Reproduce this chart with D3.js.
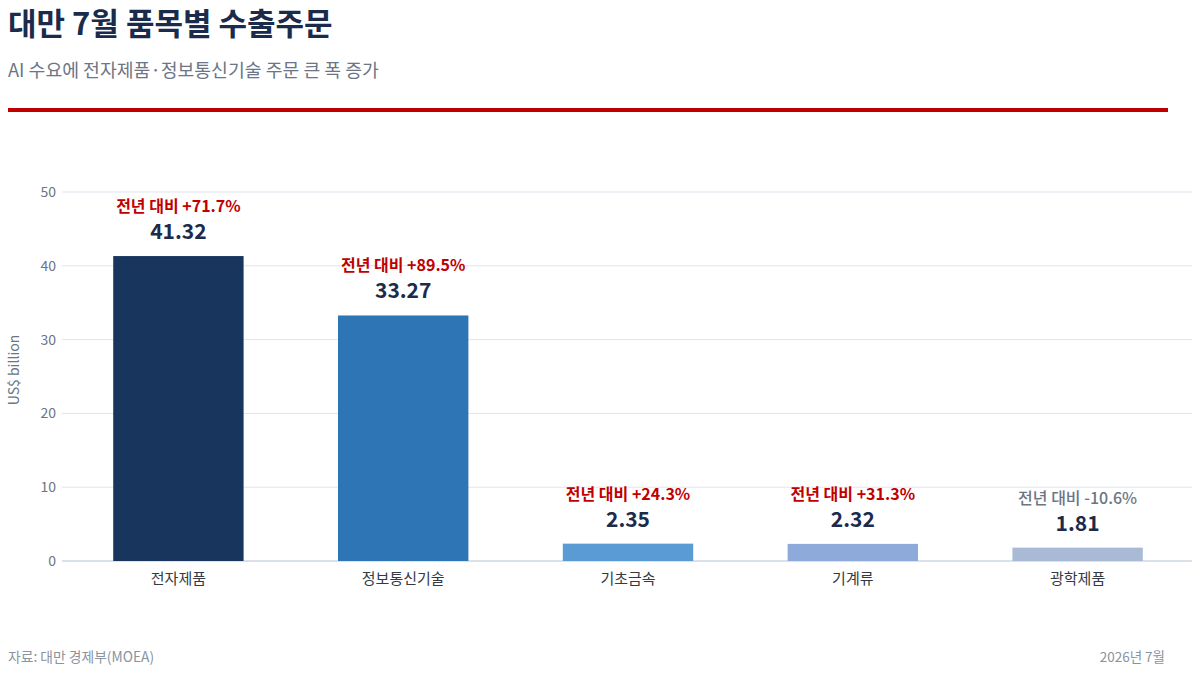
<!DOCTYPE html>
<html><head><meta charset="utf-8">
<script src="https://cdn.jsdelivr.net/npm/d3@7"></script>
<style>
body{margin:0;background:#fff;}
text{font-family:"Noto Sans CJK KR","Noto Sans",sans-serif;}
</style></head><body>
<svg id="c" width="1200" height="673"></svg>
<script>
const categories = ["전자제품","정보통신기술","기초금속","기계류","광학제품"];
const values = [41.32, 33.27, 2.35, 2.32, 1.81];
const yoy = [71.7, 89.5, 24.3, 31.3, -10.6];
const colors = ["#18365d","#2e75b6","#5b9bd5","#8eaadb","#a8bad5"];
const yTicks = [0,10,20,30,40,50];

const svg = d3.select("#c");
const m = {left:62, right:1192, top:192, bottom:561};

svg.append("text").attr("x",8).attr("y",35).attr("font-size",31).attr("font-weight",700)
  .attr("fill","#1b2b4b").text("대만 7월 품목별 수출주문");
svg.append("text").attr("x",8).attr("y",77).attr("font-size",18.3).attr("fill","#6b7585")
  .text("AI 수요에 전자제품·정보통신기술 주문 큰 폭 증가");
svg.append("rect").attr("x",8).attr("y",108).attr("width",1160).attr("height",4).attr("fill","#c00000");

const y = d3.scaleLinear().domain([0,50]).range([m.bottom,m.top]);
const x = d3.scaleBand().domain(categories).range([66,1190]).paddingInner(0.42).paddingOuter(0.21);

const grid = svg.append("g");
grid.selectAll("line").data(yTicks).join("line")
  .attr("x1",m.left).attr("x2",m.right)
  .attr("y1",d=>y(d)).attr("y2",d=>y(d))
  .attr("stroke",d=>d===0?"#cfd7e3":"#dfe5ee").attr("stroke-width",d=>d===0?1.5:1);

const yAxis = svg.append("g").attr("transform",`translate(${m.left},0)`)
  .call(d3.axisLeft(y).tickValues(yTicks).tickSize(0).tickPadding(6));
yAxis.select(".domain").remove();
yAxis.selectAll("text").attr("font-size",14).attr("fill","#6b7585")
  .attr("font-family","'Noto Sans CJK KR','Noto Sans',sans-serif");

svg.append("text").attr("transform",`translate(19,370) rotate(-90)`).attr("text-anchor","middle")
  .attr("font-size",14).attr("fill","#6b7585").text("US$ billion");

svg.append("g").selectAll("rect").data(values).join("rect")
  .attr("x",(d,i)=>x(categories[i])).attr("width",x.bandwidth())
  .attr("y",d=>y(d)).attr("height",d=>y(0)-y(d))
  .attr("fill",(d,i)=>colors[i]);

const xAxis = svg.append("g").attr("transform",`translate(0,${m.bottom})`)
  .call(d3.axisBottom(x).tickSize(0).tickPadding(12));
xAxis.select(".domain").remove();
xAxis.selectAll("text").attr("font-size",15).attr("fill","#333a44")
  .attr("font-family","'Noto Sans CJK KR','Noto Sans',sans-serif");

const lab = svg.append("g");
lab.selectAll("text.v").data(values).join("text").attr("class","v")
  .attr("x",(d,i)=>x(categories[i])+x.bandwidth()/2).attr("y",d=>y(d)-17)
  .attr("text-anchor","middle").attr("font-size",21).attr("font-weight",700).attr("fill","#1b2b4b")
  .text(d=>d.toFixed(2));
lab.selectAll("text.p").data(yoy).join("text").attr("class","p")
  .attr("x",(d,i)=>x(categories[i])+x.bandwidth()/2).attr("y",(d,i)=>y(values[i])-44)
  .attr("text-anchor","middle").attr("font-size",16).attr("font-weight",d=>d>=0?700:500)
  .attr("fill",d=>d>=0?"#c00000":"#6b7585")
  .text(d=>"전년 대비 "+(d>=0?"+":"")+d.toFixed(1)+"%");

svg.append("text").attr("x",8).attr("y",662).attr("font-size",13.8).attr("fill","#8a93a0")
  .text("자료: 대만 경제부(MOEA)");
svg.append("text").attr("x",1165).attr("y",662).attr("text-anchor","end").attr("font-size",13.5).attr("fill","#8a93a0")
  .text("2026년 7월");
</script>
</body></html>
